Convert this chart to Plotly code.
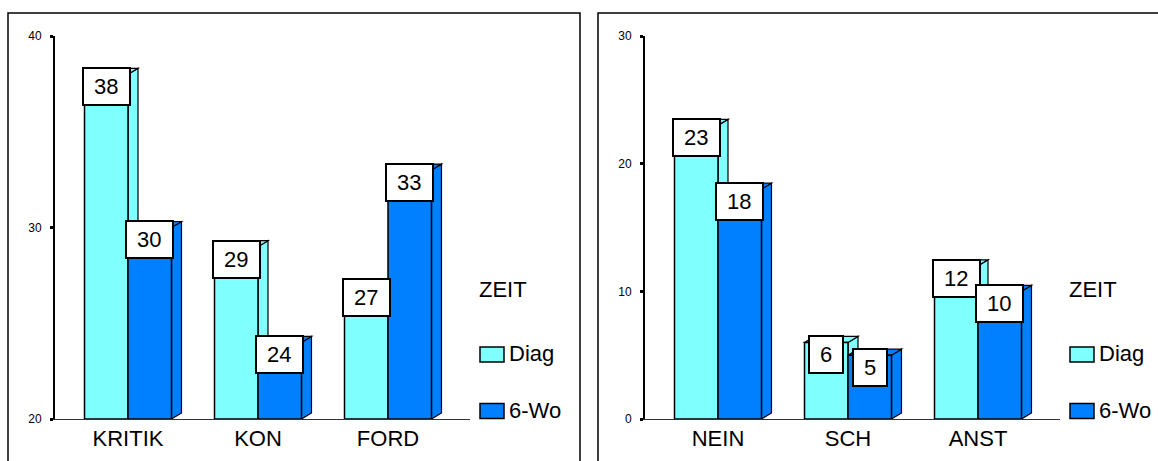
import plotly.graph_objects as go

# ---------------- data ----------------
categories_left = ["KRITIK", "KON", "FORD"]
diag_left = [38, 29, 27]
wo_left = [30, 24, 33]

categories_right = ["NEIN", "SCH", "ANST"]
diag_right = [23, 6, 12]
wo_right = [18, 5, 10]

series_names = ["Diag", "6-Wo"]
legend_title = "ZEIT"
yticks_left = [20, 30, 40]
yticks_right = [0, 10, 20, 30]
yrange_left = [20, 40]
yrange_right = [0, 30]

# ---------------- style ----------------
W, H = 1158, 461
C_DIAG = "#80FFFF"
C_WO = "#0080FF"
FONT = "Arial, Liberation Sans, sans-serif"
BARGAP = 0.331
BW = (1 - BARGAP) / 2
XR = [-0.5615, 2.6308]
Y_PX = (36, 419)
ydom = [(H - Y_PX[1]) / H, (H - Y_PX[0]) / H]
DX_PX, DY_PX = 10, 6

panels = [
    dict(cats=categories_left, diag=diag_left, wo=wo_left, yr=yrange_left,
         ticks=yticks_left, xd=(55, 470), ax="", frame=(8, 580), leg=477),
    dict(cats=categories_right, diag=diag_right, wo=wo_right, yr=yrange_right,
         ticks=yticks_right, xd=(645, 1060), ax="2", frame=(598, 1175), leg=1067),
]

fig = go.Figure()
shapes = []
annotations = []

for p in panels:
    xref, yref = "x" + p["ax"], "y" + p["ax"]
    xs = list(range(len(p["cats"])))
    for name, vals, col in [(series_names[0], p["diag"], C_DIAG),
                            (series_names[1], p["wo"], C_WO)]:
        fig.add_trace(go.Bar(
            x=xs, y=[v - p["yr"][0] for v in vals], base=p["yr"][0], name=name,
            marker=dict(color=col, line=dict(color="black", width=1.5)),
            xaxis=xref, yaxis=yref, showlegend=False, hoverinfo="skip"))

    dx = DX_PX * (XR[1] - XR[0]) / (p["xd"][1] - p["xd"][0])
    dy = DY_PX * (p["yr"][1] - p["yr"][0]) / (Y_PX[1] - Y_PX[0])
    b = p["yr"][0]
    for k, (vals, col) in enumerate([(p["diag"], C_DIAG), (p["wo"], C_WO)]):
        for i, v in enumerate(vals):
            xl = i - BW + k * BW
            xr = xl + BW
            side = (f"M{xr},{b} L{xr+dx},{b+dy} L{xr+dx},{v+dy} L{xr},{v} Z")
            top = (f"M{xl},{v} L{xl+dx},{v+dy} L{xr+dx},{v+dy} L{xr},{v} Z")
            for path in (side, top):
                shapes.append(dict(type="path", path=path, xref=xref, yref=yref,
                                   fillcolor=col, line=dict(color="black", width=1.2),
                                   layer="below"))
            txt = str(v)
            annotations.append(dict(
                x=(xl + xr) / 2, y=v, xref=xref, yref=yref, text=txt,
                showarrow=False, yanchor="top", xanchor="center", yshift=7,
                bgcolor="white", bordercolor="black", borderwidth=2, borderpad=1,
                width=len(txt) * 12.3 + 18, height=33,
                font=dict(family=FONT, size=22, color="black")))

    f0, f1 = p["frame"]
    shapes.append(dict(type="rect", xref="paper", yref="paper",
                       x0=f0 / W, x1=f1 / W, y0=-0.1, y1=(H - 13) / H,
                       line=dict(color="black", width=1.5), fillcolor="rgba(0,0,0,0)"))

    lx = p["leg"]
    annotations.append(dict(x=lx / W, y=(H - 290) / H, xref="paper", yref="paper",
                            text=legend_title, showarrow=False, xanchor="left",
                            yanchor="middle", font=dict(family=FONT, size=22, color="black")))
    for name, col, yc in [(series_names[0], C_DIAG, 354.5), (series_names[1], C_WO, 411)]:
        sx = lx + 3
        shapes.append(dict(type="rect", xref="paper", yref="paper",
                           x0=sx / W, x1=(sx + 24) / W,
                           y0=(H - yc - 7.5) / H, y1=(H - yc + 7.5) / H,
                           fillcolor=col, line=dict(color="black", width=1.5)))
        annotations.append(dict(x=(sx + 27) / W, y=(H - yc + 1) / H, xref="paper",
                                yref="paper", text=name, showarrow=False,
                                xanchor="left", yanchor="middle",
                                font=dict(family=FONT, size=22, color="black")))

axis_common_x = dict(range=XR, showgrid=False, zeroline=False, showline=True,
                     linecolor="#333333", linewidth=1, ticks="", tickmode="array",
                     tickfont=dict(family=FONT, size=22, color="black"),
                     ticklabelstandoff=0, fixedrange=True, automargin=False)
axis_common_y = dict(domain=ydom, showgrid=False, zeroline=False, showline=True,
                     linecolor="black", linewidth=2, ticks="outside", ticklen=3,
                     tickwidth=3, tickcolor="black", tickmode="array",
                     tickfont=dict(family=FONT, size=12, color="black"),
                     ticklabelstandoff=6, fixedrange=True, automargin=False)

fig.update_layout(
    width=W, height=H, margin=dict(l=0, r=0, t=0, b=0, pad=0, autoexpand=False),
    paper_bgcolor="white", plot_bgcolor="white",
    barmode="group", bargap=BARGAP, bargroupgap=0,
    showlegend=False,
    xaxis=dict(axis_common_x, domain=[panels[0]["xd"][0] / W, panels[0]["xd"][1] / W],
               tickvals=list(range(3)), ticktext=categories_left, anchor="y"),
    yaxis=dict(axis_common_y, range=yrange_left, tickvals=yticks_left, anchor="x"),
    xaxis2=dict(axis_common_x, domain=[panels[1]["xd"][0] / W, panels[1]["xd"][1] / W],
                tickvals=list(range(3)), ticktext=categories_right, anchor="y2"),
    yaxis2=dict(axis_common_y, range=yrange_right, tickvals=yticks_right, anchor="x2"),
    shapes=shapes, annotations=annotations,
)

fig.write_html("out.html", config={"displayModeBar": False},
               post_script="document.body.style.margin='0';document.body.style.overflow='hidden';")
